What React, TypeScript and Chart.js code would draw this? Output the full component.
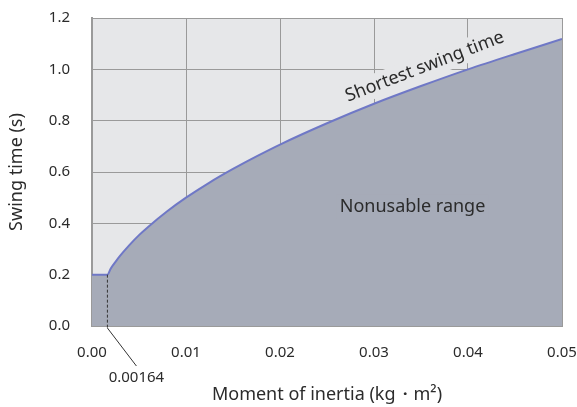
import React, { useEffect, useRef } from 'react';
import { Chart, registerables } from 'chart.js';
Chart.register(...registerables);

const inertia = [0, 0.00164, 0.002, 0.0025, 0.003, 0.004, 0.005, 0.006, 0.008, 0.01, 0.0125, 0.015, 0.0175, 0.02, 0.025, 0.03, 0.035, 0.04, 0.045, 0.05];
const swingTime = [0.2, 0.2, 0.224, 0.25, 0.274, 0.316, 0.354, 0.387, 0.447, 0.5, 0.559, 0.612, 0.661, 0.707, 0.79, 0.866, 0.935, 1.0, 1.06, 1.118];
const markerX = 0.00164;
const markerY = 0.2;
const markerLabel = '0.00164';
const curveLabel = 'Shortest swing time';
const areaLabel = 'Nonusable range';
const xTitle = 'Moment of inertia (kg\u30FBm\u00B2)';
const yTitle = 'Swing time (s)';

const BG = '#e6e7e9';
const FILL = '#a6abb8';
const LINE = '#6f78c6';
const GRID = '#9a9a9a';
const TEXT = '#2b2b2b';
const FONT = '"Noto Sans", sans-serif';

const annot = {
  id: 'annot',
  beforeDraw(chart: any) {
    const { ctx, chartArea: a } = chart;
    ctx.save();
    ctx.fillStyle = BG;
    ctx.fillRect(a.left, a.top, a.right - a.left, a.bottom - a.top);
    ctx.restore();
  },
  afterDraw(chart: any) {
    const { ctx } = chart;
    const xs = chart.scales.x;
    const ys = chart.scales.y;
    const px = xs.getPixelForValue(markerX);
    const py = ys.getPixelForValue(markerY);
    const pb = ys.getPixelForValue(0);
    ctx.save();
    ctx.strokeStyle = '#333';
    ctx.lineWidth = 1;
    ctx.setLineDash([3, 2]);
    ctx.beginPath();
    ctx.moveTo(px, py);
    ctx.lineTo(px, pb + 2);
    ctx.stroke();
    ctx.setLineDash([]);
    ctx.beginPath();
    ctx.moveTo(px, pb + 2);
    ctx.lineTo(px + 29, pb + 40);
    ctx.stroke();
    ctx.fillStyle = TEXT;
    ctx.font = `15px ${FONT}`;
    ctx.textAlign = 'center';
    ctx.textBaseline = 'middle';
    ctx.fillText(markerLabel, px + 29, pb + 52);

    const drawLabel = (text: string, xv: number, yv: number, rot: number, bg: string) => {
      const cx = xs.getPixelForValue(xv);
      const cy = ys.getPixelForValue(yv);
      ctx.save();
      ctx.translate(cx, cy);
      ctx.rotate(rot);
      ctx.font = `18px ${FONT}`;
      const w = ctx.measureText(text).width;
      ctx.fillStyle = bg;
      ctx.fillRect(-w / 2 - 3, -12, w + 6, 24);
      ctx.fillStyle = TEXT;
      ctx.textAlign = 'center';
      ctx.textBaseline = 'middle';
      ctx.fillText(text, 0, 0);
      ctx.restore();
    };
    drawLabel(curveLabel, 0.0354, 1.01, (-21 * Math.PI) / 180, BG);
    drawLabel(areaLabel, 0.0341, 0.464, 0, FILL);
    ctx.restore();
  },
};

export default function App() {
  const ref = useRef<HTMLCanvasElement>(null);
  useEffect(() => {
    if (!ref.current) return;
    const chart = new Chart(ref.current, {
      type: 'line',
      data: {
        datasets: [
          {
            data: inertia.map((x, i) => ({ x, y: swingTime[i] })),
            borderColor: LINE,
            borderWidth: 2,
            backgroundColor: FILL,
            fill: 'origin',
            pointRadius: 0,
            tension: 0.3,
            cubicInterpolationMode: 'monotone',
          },
        ],
      },
      options: {
        animation: false,
        responsive: false,
        maintainAspectRatio: false,
        layout: { padding: { top: 18, right: 15, left: 0, bottom: 0 } },
        plugins: { legend: { display: false }, tooltip: { enabled: false } },
        scales: {
          x: {
            type: 'linear',
            min: 0,
            max: 0.05,
            z: 1,
            afterFit: (s: any) => { s.height = 81; s.paddingLeft = 0; s.paddingRight = 0; },
            ticks: { stepSize: 0.01, padding: 18, color: TEXT, font: { family: FONT, size: 15 }, callback: (v: any) => Number(v).toFixed(2), maxRotation: 0 },
            grid: { color: GRID, drawTicks: false, lineWidth: 1 },
            border: { color: GRID, width: 2 },
            title: { display: true, text: xTitle, color: TEXT, font: { family: FONT, size: 18 }, padding: { top: 0, bottom: 1 } },
          },
          y: {
            min: 0,
            max: 1.2,
            z: 1,
            afterFit: (s: any) => { s.width = 92; s.paddingTop = 0; s.paddingBottom = 0; },
            ticks: { stepSize: 0.2, padding: 22, color: TEXT, font: { family: FONT, size: 15 }, callback: (v: any) => Number(v).toFixed(1) },
            grid: { color: GRID, drawTicks: false, lineWidth: 1 },
            border: { color: GRID, width: 2 },
            title: { display: true, text: yTitle, color: TEXT, font: { family: FONT, size: 18 }, padding: { top: 6, bottom: 0 } },
          },
        },
      },
      plugins: [annot],
    } as any);
    return () => chart.destroy();
  }, []);
  return (
    <div style={{ position: 'fixed', left: 0, top: 0, width: 577, height: 407, background: '#fff' }}>
      <canvas ref={ref} width={577} height={407} style={{ width: 577, height: 407 }} />
    </div>
  );
}
